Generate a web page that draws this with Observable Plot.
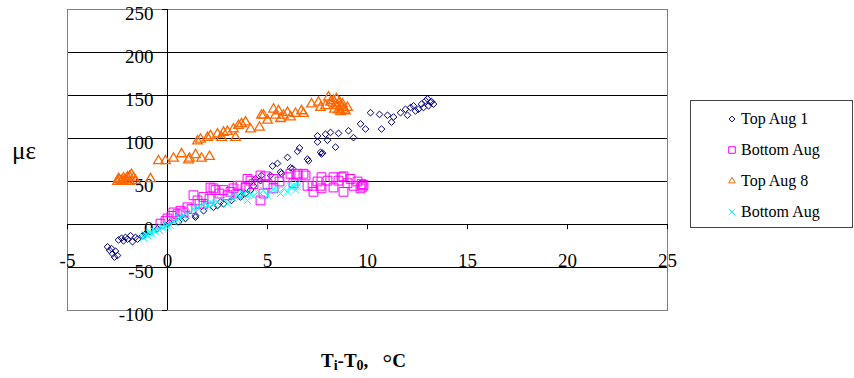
<!DOCTYPE html>
<html>
<head>
<meta charset="utf-8">
<script src="https://cdn.jsdelivr.net/npm/d3@7"></script>
<script src="https://cdn.jsdelivr.net/npm/@observablehq/plot@0.6"></script>
<style>
  html, body { margin: 0; padding: 0; background: #fff; }
  #wrap { position: relative; width: 854px; height: 378px; font-family: "Liberation Serif", "Times New Roman", serif; color: #000; }
  #wrap svg { display: block; }
  .abs { position: absolute; white-space: nowrap; }
</style>
</head>
<body>
<div id="wrap"></div>
<script>
// ---- data ----
const xTicks = [-5, 0, 5, 10, 15, 20, 25];
const yTicks = [-100, -50, 0, 50, 100, 150, 200, 250];
const gridY = [-50, 0, 50, 100, 150, 200];

const seriesNames = ["Top Aug 1", "Bottom Aug", "Top Aug 8", "Bottom Aug"];
const seriesColors = ["#000080", "#FF00FF", "#FF6600", "#00FFFF"];

// Top Aug 1 (navy diamonds)
const top1X = [-3.0,-2.9,-2.8,-2.75,-2.65,-2.5,-2.6,-2.45,-2.3,-2.2,-2.1,-2.0,-1.85,-1.75,-1.6,-1.5,-1.25,-1.1,-0.5,0.1,
  0.55,0.9,1.4,1.4,1.8,2.3,2.5,2.65,2.8,3.2,3.65,3.9,4.15,4.3,4.4,4.65,4.7,5.15,5.25,5.5,5.65,5.7,6.0,6.15,6.25,6.5,6.6,7.0,7.05,
  7.5,7.5,7.65,7.7,7.75,7.9,8.0,8.15,8.4,8.55,9.05,9.3,9.65,9.9,10.15,10.6,10.7,11.0,11.2,11.3,11.65,11.9,12.0,12.15,12.3,12.4,
  12.55,12.7,12.8,12.9,13.0,13.05,13.15,13.3,13.2];
const top1Y = [-26,-30,-28,-34,-38,-36,-31,-18,-16,-19,-15,-17,-13,-20,-15,-17,-13,-11,-5,2,
  3,7,8.5,10.5,16,20,22,26,24,28,32,36,40,45,53,51,57,57,68,71,61,59,78,66,65,85,89,76,74,
  103,96,84,82,83,105,98,107,90,106,109,101,117,111,130,128,111,127,119,125,130,134,127,136,138,132,
  134,140,136,144,146,138,142,140,143];

// Bottom Aug (magenta squares)
const bot1X = [-0.35,-0.1,0.0,0.2,0.3,0.5,0.65,0.8,1.0,1.2,1.3,1.5,1.6,1.8,1.8,2.1,2.15,2.3,2.4,2.6,2.8,3.0,3.15,3.3,3.5,3.5,3.65,
  3.9,4.0,4.15,4.3,4.65,4.65,4.8,4.9,5.0,5.3,5.3,5.6,6.0,6.15,6.3,6.5,6.5,6.8,6.9,7.0,7.25,7.3,7.5,7.65,7.7,7.7,8.0,8.3,8.3,
  8.55,8.7,8.8,8.8,9.0,9.15,9.3,9.5,9.65,9.7,9.8,9.75];
const bot1Y = [1,4,7,10,14,12,16,14,20,18,34,28,24,32,24,30,43,42,40,36,40,34,38,42,36,45,45,
  43,53,51,47,57,28,36,56,47,53,42,50,55,59,48,57,59,59,57,45,45,38,50,45,55,42,51,55,43,
  51,55,38,56,48,53,45,50,42,47,46,44];

// Top Aug 8 (orange triangles)
const top8X = [-2.5,-2.45,-2.4,-2.3,-2.2,-2.1,-2.0,-1.9,-1.8,-1.7,-1.6,-1.9,-2.2,-0.85,
  -0.45,-0.1,0.3,0.7,1.05,1.1,1.4,1.7,2.1,
  1.5,1.65,2.0,2.15,2.5,2.7,2.8,3.0,3.3,3.4,3.55,3.7,3.9,4.15,4.6,4.7,4.8,5.0,5.3,5.4,5.55,5.65,5.8,6.0,6.15,6.4,6.7,6.8,
  7.2,7.55,7.65,7.9,8.05,8.15,8.3,8.4,8.5,8.45,8.55,8.6,8.7,8.75,8.8,8.9,9.0,8.65,8.35];
const top8Y = [50,53,52,51,54,52,55,56,58,54,51,50,50,53,
  74,74,77,82,75,77,81,77,79,
  97,99,101,103,105,101,107,108,111,101,115,117,119,111,113,127,127,121,134,127,132,123,127,130,125,129,132,129,
  140,142,136,138,148,142,144,140,138,146,133,142,136,140,134,132,136,131,134];

// Bottom Aug (cyan crosses)
const bot2X = [-1.2,-1.1,-1.0,-0.9,-0.85,-0.75,-0.7,-0.6,-0.5,-0.4,-0.3,-0.2,-0.1,0.0,0.15,0.3,0.5,0.6,0.8,1.0,1.15,1.3,1.5,
  1.65,1.8,2.0,2.15,2.3,2.5,2.65,2.8,3.0,3.15,3.3,3.5,3.65,3.8,4.0,4.15,4.3,4.5,4.65,4.8,5.0,5.15,5.3,5.5,5.65,5.8,6.0,
  6.15,6.3,6.4,6.5,6.5];
const bot2Y = [-15,-12,-13,-10,-9,-11,-7,-8,-5,-7,-3,-4,-2,-1,-1,3,5,8,10,12,15,18,20,
  20,23,22,26,24,26,29,30,24,32,30,34,32,36,28,35,33,37,36,40,34,38,41,40,36,42,38,
  44,45,40,48,44];

const xsAll = [top1X, bot1X, top8X, bot2X];
const ysAll = [top1Y, bot1Y, top8Y, bot2Y];
const table = (xs, ys) => xs.map((x, i) => ({x, y: ys[i]}));
const [dTop1, dBot1, dTop8, dBot2] = xsAll.map((xs, i) => table(xs, ysAll[i]));

const font = '"Liberation Serif", "Times New Roman", serif';

const chart = Plot.plot({
  width: 854,
  height: 378,
  marginLeft: 67,
  marginRight: 187,
  marginTop: 9,
  marginBottom: 68,
  x: {domain: [-5, 25], axis: null},
  y: {domain: [-100, 250], axis: null},
  style: {fontFamily: font, fontSize: "19px", background: "#fff", overflow: "visible"},
  marks: [
    Plot.ruleY(gridY, {stroke: "#000", strokeWidth: 1}),
    Plot.frame({stroke: "#808080", strokeWidth: 1}),
    Plot.ruleX([0], {stroke: "#000", strokeWidth: 1}),
    Plot.ruleY(yTicks, {x1: -0.25, x2: 0, stroke: "#000"}),
    Plot.ruleX(xTicks, {y1: -6, y2: 0, stroke: "#000"}),
    Plot.text(yTicks, {x: 0, y: d => d, text: d => String(d), textAnchor: "end", dx: -14, dy: 4, fontSize: 19}),
    Plot.text(xTicks, {x: d => d, y: 0, text: d => String(d), textAnchor: "middle", dy: 36, fontSize: 19}),
    Plot.dot(dTop1, {x: "x", y: "y", symbol: "diamond2", r: 3.0, stroke: seriesColors[0], strokeWidth: 1, fill: "none"}),
    Plot.dot(dBot1, {x: "x", y: "y", symbol: "square2", r: 5.6, stroke: seriesColors[1], strokeWidth: 1, fill: "none"}),
    Plot.dot(dTop8, {x: "x", y: "y", symbol: "triangle2", r: 4.6, stroke: seriesColors[2], strokeWidth: 1.3, fill: "none"}),
    Plot.dot(dBot2, {x: "x", y: "y", symbol: "times", r: 3.3, stroke: seriesColors[3], strokeWidth: 1, fill: "none"})
  ]
});

const wrap = document.getElementById("wrap");
wrap.appendChild(chart);

// y label
const yl = document.createElement("div");
yl.className = "abs";
yl.style.cssText = "left:12px;top:138px;font-size:25px;line-height:25px;";
yl.textContent = "με";
wrap.appendChild(yl);

// x label
const xl = document.createElement("div");
xl.className = "abs";
xl.style.cssText = "left:321px;top:350px;font-size:19px;line-height:19px;font-weight:bold;";
xl.innerHTML = 'T<span style="font-size:14px;position:relative;top:3px">i</span>-T<span style="font-size:14px;position:relative;top:3px">0</span>,&nbsp;&nbsp;&nbsp;<span style="font-weight:normal;font-size:24px;position:relative;top:4px">°</span>C';
wrap.appendChild(xl);

// legend
const lg = document.createElement("div");
lg.className = "abs";
lg.style.cssText = "left:690px;top:100px;width:161px;height:126px;border:1px solid #444;background:#fff;";
wrap.appendChild(lg);
const legSyms = [d3.symbolDiamond2, d3.symbolSquare2, d3.symbolTriangle2, d3.symbolTimes];
const legSizes = [22, 55, 30, 28];
const rowCenters = [18, 49, 80, 111];
seriesNames.forEach((name, i) => {
  const c = rowCenters[i];
  const s = document.createElementNS("http://www.w3.org/2000/svg", "svg");
  s.setAttribute("width", 12); s.setAttribute("height", 12);
  s.style.cssText = `position:absolute;left:35px;top:${c - 6}px;overflow:visible`;
  const p = document.createElementNS("http://www.w3.org/2000/svg", "path");
  p.setAttribute("d", d3.symbol(legSyms[i], legSizes[i])());
  p.setAttribute("transform", "translate(6,6)");
  p.setAttribute("fill", "none");
  p.setAttribute("stroke", seriesColors[i]);
  p.setAttribute("stroke-width", 1);
  s.appendChild(p);
  lg.appendChild(s);
  const t = document.createElement("div");
  t.className = "abs";
  t.style.cssText = `left:50px;top:${c - 8}px;font-size:16px;line-height:16px;`;
  t.textContent = name;
  lg.appendChild(t);
});
</script>
</body>
</html>
